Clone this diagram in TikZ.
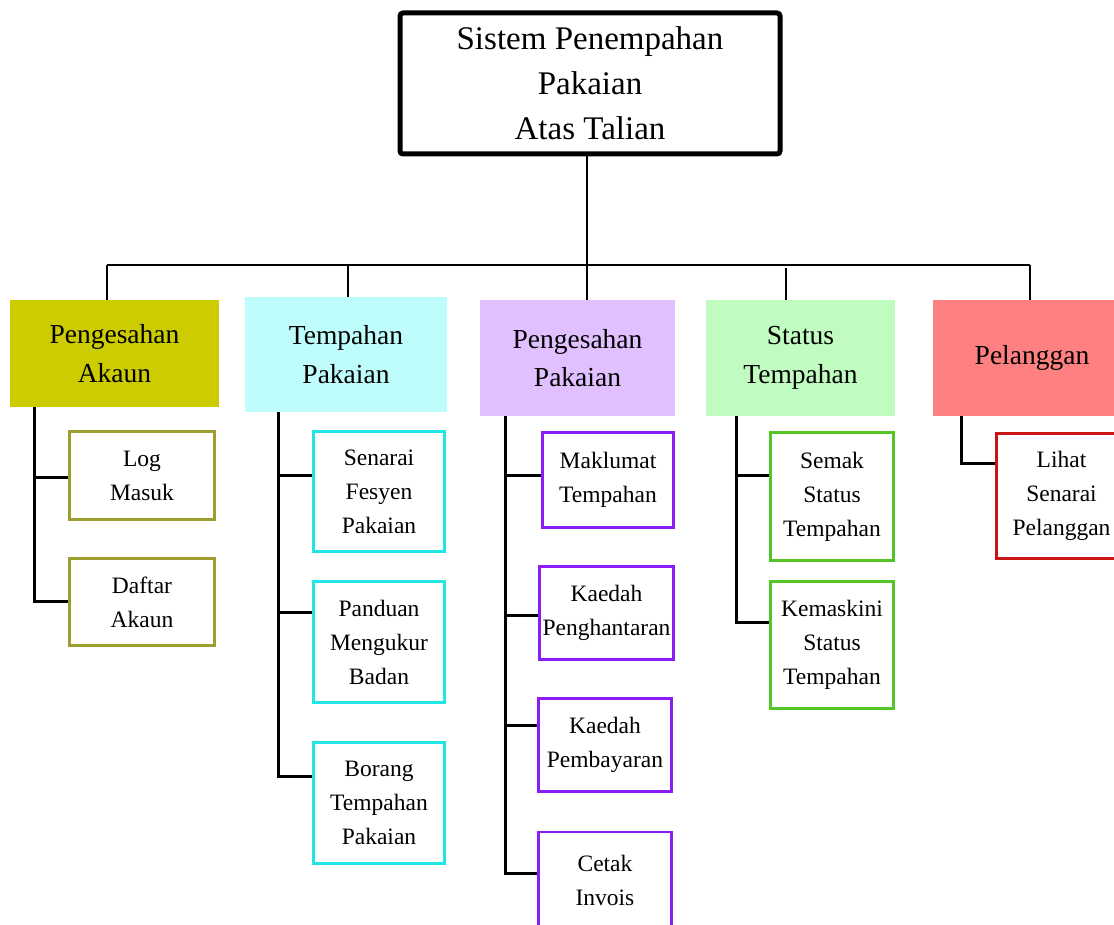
\documentclass[tikz,border=0pt]{standalone}
\usepackage{fontspec}
\setmainfont{Liberation Serif}
\usepackage{xcolor}
\definecolor{akaun-fill}{HTML}{CCCC00}
\definecolor{akaun-line}{HTML}{9E9E2E}
\definecolor{tempah-fill}{HTML}{BFFCFC}
\definecolor{tempah-line}{HTML}{22E5E5}
\definecolor{sah-fill}{HTML}{E1C0FF}
\definecolor{sah-line}{HTML}{8C1CF5}
\definecolor{status-fill}{HTML}{C0FCC0}
\definecolor{status-line}{HTML}{55C525}
\definecolor{pelanggan-fill}{HTML}{FF8080}
\definecolor{pelanggan-line}{HTML}{C81414}
\usetikzlibrary{positioning,calc}
\tikzset{
    root/.style = {draw, line width=5pt, rounded corners=3pt, align=center, inner sep=2pt,
                   font=\fontsize{33}{45}\selectfont},
    head/.style = {align=center, inner sep=2pt, font=\fontsize{27.5}{38.5}\selectfont},
    leaf/.style = {draw, line width=2.5pt, fill=white, align=center, inner sep=2pt,
                   font=\fontsize{23.5}{34}\selectfont},
    bus/.style = {line width=2pt},
    branch/.style = {line width=3pt}
}

\begin{document}
\begin{tikzpicture}[x=1pt, y=-1pt]
      \useasboundingbox (0,0) rectangle (1114,925);
      \clip (0,0) rectangle (1114,925);

      \node[root, minimum width=380pt, minimum height=141pt] (root) at (590, 83.5) {Sistem Penempahan\\Pakaian\\Atas Talian};

      \node[head, fill=akaun-fill, minimum width=209pt, minimum height=107pt] (akaun) at (114.5, 353.5) {Pengesahan\\Akaun};
      \node[head, fill=tempah-fill, minimum width=202pt, minimum height=115pt] (tempahan) at (346, 354.5) {Tempahan\\Pakaian};
      \node[head, fill=sah-fill, minimum width=195pt, minimum height=116pt] (sahpakaian) at (577.5, 358) {Pengesahan\\Pakaian};
      \node[head, fill=status-fill, minimum width=189pt, minimum height=116pt] (status) at (800.5, 358) {Status\\Tempahan};
      \node[head, fill=pelanggan-fill, minimum width=198pt, minimum height=116pt] (pelanggan) at (1032, 358) {Pelanggan};

      \node[leaf, draw=akaun-line, minimum width=145pt, minimum height=88pt] (logmasuk) at (142, 475.5) {Log\\Masuk};
      \node[leaf, draw=akaun-line, minimum width=145pt, minimum height=87pt] (daftar) at (142, 602) {Daftar\\Akaun};

      \node[leaf, draw=tempah-line, minimum width=131pt, minimum height=120pt] (senarai) at (379, 491.5) {Senarai\\Fesyen\\Pakaian};
      \node[leaf, draw=tempah-line, minimum width=131pt, minimum height=121pt] (panduan) at (379, 642) {Panduan\\Mengukur\\Badan};
      \node[leaf, draw=tempah-line, minimum width=131pt, minimum height=121pt] (borang) at (379, 803) {Borang\\Tempahan\\Pakaian};

      \node[leaf, draw=sah-line, minimum width=131pt, minimum height=95pt] (maklumat) at (608, 480) {Maklumat\\Tempahan};
      \node[leaf, draw=sah-line, minimum width=134pt, minimum height=93pt] (penghantaran) at (606.5, 613) {Kaedah\\Penghantaran};
      \node[leaf, draw=sah-line, minimum width=133pt, minimum height=93pt] (pembayaran) at (605, 745) {Kaedah\\Pembayaran};
      \node[leaf, draw=sah-line, minimum width=133pt, minimum height=96pt] (invois) at (605, 880) {Cetak\\Invois};

      \node[leaf, draw=status-line, minimum width=123pt, minimum height=128pt] (semak) at (832, 496.5) {Semak\\Status\\Tempahan};
      \node[leaf, draw=status-line, minimum width=123pt, minimum height=127pt] (kemaskini) at (832, 645) {Kemaskini\\Status\\Tempahan};

      \node[leaf, draw=pelanggan-line, minimum width=130pt, minimum height=125pt] (lihat) at (1061.5, 496) {Lihat\\Senarai\\Pelanggan};

      \coordinate (bus) at (0, 265);
      \draw[bus] ([xshift=-3pt]root.south) -- ([xshift=-3pt]root.south |- bus);
      \draw[bus] ([xshift=-7.5pt]akaun.north |- bus) -- ([xshift=-2pt]pelanggan.north |- bus);
      \draw[bus] ([xshift=-7.5pt]akaun.north) -- ([xshift=-7.5pt]akaun.north |- bus);
      \draw[bus] ([xshift=2pt]tempahan.north) -- ([xshift=2pt]tempahan.north |- bus);
      \draw[bus] ([xshift=9.5pt]sahpakaian.north) -- ([xshift=9.5pt]sahpakaian.north |- bus);
      \draw[bus] ([xshift=-14.5pt]status.north) -- ([xshift=-14.5pt,yshift=-3pt]status.north |- bus);
      \draw[bus] ([xshift=-2pt]pelanggan.north) -- ([xshift=-2pt]pelanggan.north |- bus);

      \draw[branch] ([xshift=25pt]akaun.south west) |- ([yshift=-1.5pt]logmasuk.west);
      \draw[branch] ([xshift=25pt]akaun.south west) |- ([yshift=1pt]daftar.west);

      \draw[branch] ([xshift=34pt]tempahan.south west) |- ([yshift=16.5pt]senarai.west);
      \draw[branch] ([xshift=34pt]tempahan.south west) |- ([yshift=30pt]panduan.west);
      \draw[branch] ([xshift=34pt]tempahan.south west) |- ([yshift=27pt]borang.west);

      \draw[branch] ([xshift=26pt]sahpakaian.south west) |- ([yshift=5pt]maklumat.west);
      \draw[branch] ([xshift=26pt]sahpakaian.south west) |- ([yshift=-2pt]penghantaran.west);
      \draw[branch] ([xshift=26pt]sahpakaian.south west) |- ([yshift=20pt]pembayaran.west);
      \draw[branch] ([xshift=26pt]sahpakaian.south west) |- ([yshift=7pt]invois.west);

      \draw[branch] ([xshift=31pt]status.south west) |- ([yshift=21.5pt]semak.west);
      \draw[branch] ([xshift=31pt]status.south west) |- ([yshift=23pt]kemaskini.west);

      \draw[branch] ([xshift=29pt]pelanggan.south west) |- ([yshift=33pt]lihat.west);
\end{tikzpicture}
\end{document}
